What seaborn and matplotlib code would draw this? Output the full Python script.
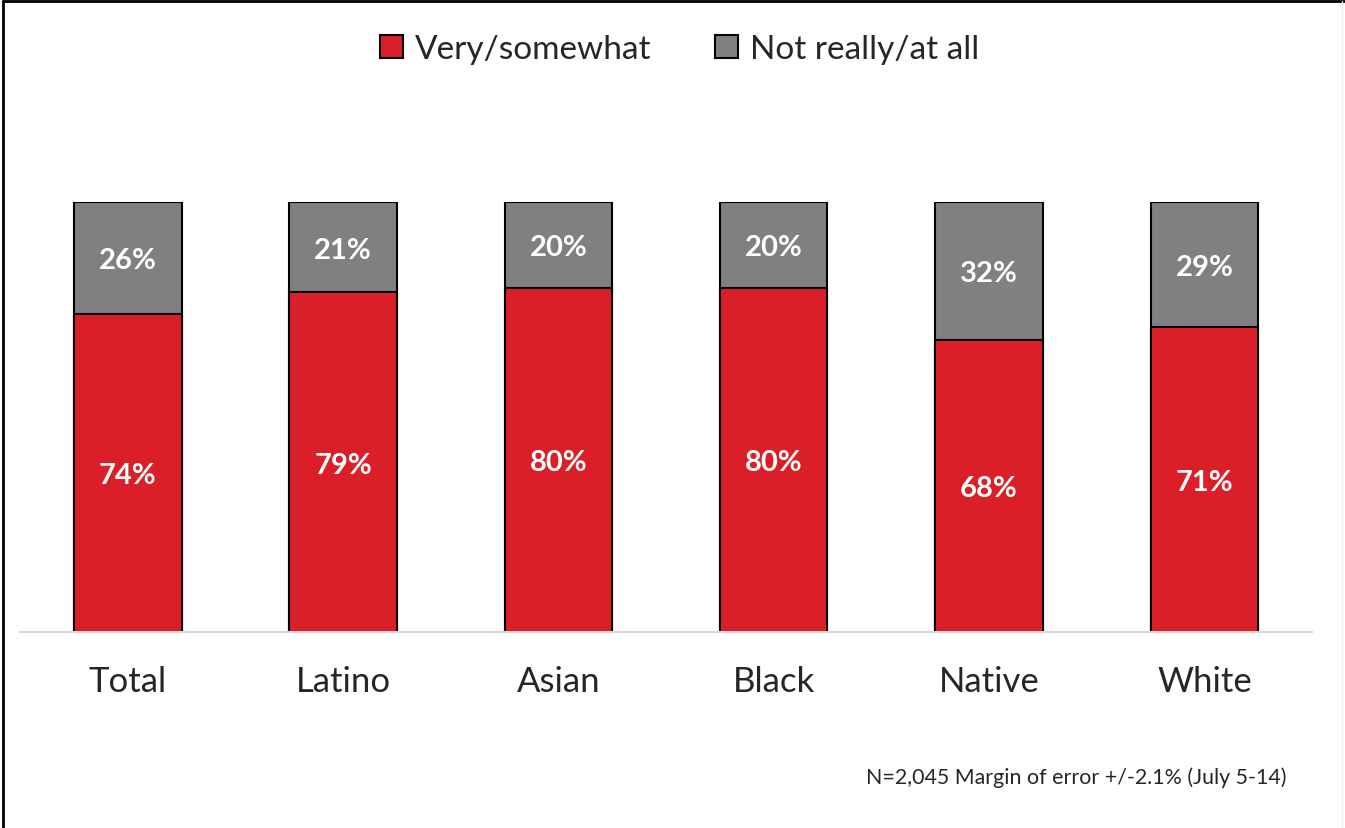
import pandas as pd
import seaborn as sns
import matplotlib.pyplot as plt
from matplotlib.patches import Patch
from matplotlib.lines import Line2D

groups = ["Total", "Latino", "Asian", "Black", "Native", "White"]
very_somewhat = [74, 79, 80, 80, 68, 71]
not_really = [26, 21, 20, 20, 32, 29]

RED = "#DA1F28"
GRAY = "#808080"

df = pd.DataFrame({"group": groups, "very": very_somewhat, "not": not_really})
df["total"] = df["very"] + df["not"]

sns.set_style("white")
plt.rcParams["font.family"] = ["Lato", "DejaVu Sans"]

fig = plt.figure(figsize=(13.45, 8.29), dpi=100)
ax = fig.add_axes([20 / 1345, 1 - 633 / 829, 1292 / 1345, 430 / 829])

# gray = full stack, red drawn over it
sns.barplot(data=df, x="group", y="total", color=GRAY, width=0.5,
            edgecolor="black", linewidth=1.5, saturation=1, ax=ax)
sns.barplot(data=df, x="group", y="very", color=RED, width=0.5,
            edgecolor="black", linewidth=1.5, saturation=1, ax=ax)

for i, row in df.iterrows():
    ax.text(i, row["very"] / 2, f"{row['very']}%", ha="center", va="center_baseline",
            color="white", fontsize=21, fontweight="bold")
    ax.text(i, row["very"] + row["not"] / 2, f"{row['not']}%", ha="center",
            va="center_baseline", color="white", fontsize=21, fontweight="bold")

ax.set_xlim(-0.5, 5.5)
ax.set_ylim(0, 100)
ax.set_xlabel("")
ax.set_ylabel("")
ax.set_yticks([])
ax.tick_params(axis="x", length=0, labelsize=25, pad=24)
for s in ["top", "right", "left"]:
    ax.spines[s].set_visible(False)
ax.spines["bottom"].set_color("#D9D9D9")
ax.spines["bottom"].set_linewidth(1.5)

handles = [Patch(facecolor=RED, edgecolor="black", linewidth=1.5, label="Very/somewhat"),
           Patch(facecolor=GRAY, edgecolor="black", linewidth=1.5, label="Not really/at all")]
fig.legend(handles=handles, loc="center", bbox_to_anchor=(0.505, 1 - 50 / 829), ncol=2,
           frameon=False, fontsize=24, handlelength=0.7, handleheight=0.7,
           handletextpad=0.35, columnspacing=1.9)

fig.text(1287 / 1345, 1 - 778 / 829, "N=2,045 Margin of error +/-2.1% (July 5-14)",
         ha="right", va="center", fontsize=15.4)

# outer frame
fig.add_artist(Line2D([0.002, 0.002], [0, 0.998], color="black", lw=2))
fig.add_artist(Line2D([0.002, 0.999], [0.998, 0.998], color="black", lw=2))
fig.add_artist(Line2D([0.998, 0.998], [0, 0.998], color="#EEEEEE", lw=1))

fig.savefig("out.png", dpi=100)
